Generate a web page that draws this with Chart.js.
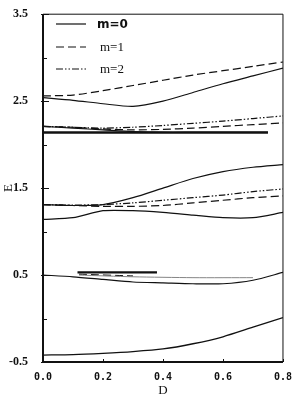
<!DOCTYPE html>
<html><head><meta charset="utf-8">
<script src="https://cdn.jsdelivr.net/npm/chart.js@4"></script>
<style>html,body{margin:0;padding:0;background:#fff}#wrap{width:293px;height:395px;position:relative}</style>
</head><body><div id="wrap"><canvas id="c"></canvas></div>
<script>
// ---- data ----
const D = [0, 0.1, 0.2, 0.3, 0.4, 0.5, 0.6, 0.7, 0.8];
const D_short = [0, 0.1, 0.2, 0.3, 0.4, 0.5, 0.6, 0.7, 0.75];
const yTickLabels = ['-0.5', '0.5', '1.5', '2.5', '3.5'];
const xTickLabels = ['0.0', '0.2', '0.4', '0.6', '0.8'];
const legendLabels = ['m=0', 'm=1', 'm=2'];

// band near 2.5
const m0_top = [2.54, 2.51, 2.47, 2.44, 2.50, 2.60, 2.70, 2.79, 2.88];
const m1_top = [2.56, 2.57, 2.62, 2.68, 2.74, 2.80, 2.85, 2.90, 2.95];
// band near 2.2
const m0_b2 = [2.21, 2.19, 2.17, 2.15, 2.14, 2.14, 2.14, 2.14, 2.14];
const m1_b2 = [2.21, 2.20, 2.18, 2.17, 2.175, 2.19, 2.21, 2.23, 2.25];
const m2_b2 = [2.21, 2.20, 2.19, 2.20, 2.22, 2.245, 2.27, 2.30, 2.33];
const ref_b2_x = [0, 0.75];
const ref_b2_y = [2.14, 2.14];
// band near 1.3
const m0_up = [1.31, 1.30, 1.31, 1.39, 1.50, 1.61, 1.69, 1.74, 1.77];
const m0_lo = [1.14, 1.16, 1.24, 1.24, 1.22, 1.19, 1.16, 1.16, 1.22];
const m1_b1 = [1.31, 1.30, 1.29, 1.29, 1.30, 1.33, 1.36, 1.39, 1.41];
const m2_b1 = [1.31, 1.305, 1.31, 1.33, 1.36, 1.39, 1.42, 1.46, 1.49];
// band near 0.5
const m0_b0 = [0.50, 0.48, 0.45, 0.42, 0.41, 0.40, 0.40, 0.44, 0.53];
const thin_b0_x = [0.12, 0.3, 0.5, 0.7];
const thin_b0_y = [0.50, 0.48, 0.47, 0.47];
const thick_b0_x = [0.115, 0.38];
const thick_b0_y = [0.53, 0.53];
const dash_b0_x = [0.12, 0.3];
const dash_b0_y = [0.51, 0.49];
// bottom curve
const m0_bot = [-0.42, -0.415, -0.40, -0.38, -0.35, -0.29, -0.21, -0.10, 0.01];

// ---- styles ----
const DASH = [8, 4];
const DASHDOT = [7, 2, 1.5, 2, 1.5, 2];
function pts(xs, ys) { return xs.map((x, i) => ({ x: x, y: ys[i] })); }
function ds(xs, ys, dash, w, color) {
  return { data: pts(xs, ys), borderColor: color || '#111', borderWidth: w || 1.2,
    borderDash: dash || [], pointRadius: 0, tension: 0.25, fill: false };
}

const datasets = [
  ds(D, m0_top, [], 1.2), ds(D, m1_top, DASH, 1.2),
  ds(D_short, m0_b2, [], 1.2), ds(D, m1_b2, DASH, 1.2), ds(D, m2_b2, DASHDOT, 1.2),
  ds(ref_b2_x, ref_b2_y, [], 2.6),
  ds(D, m0_up, [], 1.2), ds(D, m0_lo, [], 1.2), ds(D, m1_b1, DASH, 1.2), ds(D, m2_b1, DASHDOT, 1.2),
  ds(D, m0_b0, [], 1.2), ds(thin_b0_x, thin_b0_y, [], 0.9, '#777'),
  ds(thick_b0_x, thick_b0_y, [], 2.2), ds(dash_b0_x, dash_b0_y, DASH, 1),
  ds(D, m0_bot, [], 1.3)
];

const legendStyles = [[], DASH, DASHDOT];
const legendFonts = ['bold 12px "DejaVu Sans"', '13px "Liberation Serif"', '13px "Liberation Serif"'];

const framePlugin = {
  id: 'frame',
  afterDatasetsDraw(chart) {
    const { ctx, chartArea: a, scales } = chart;
    ctx.save();
    ctx.strokeStyle = '#111';
    ctx.setLineDash([]);
    // box
    ctx.lineWidth = 1;
    ctx.beginPath();
    ctx.moveTo(a.left, a.top); ctx.lineTo(a.right, a.top); ctx.lineTo(a.right, a.bottom);
    ctx.stroke();
    ctx.lineWidth = 2;
    ctx.beginPath();
    ctx.moveTo(a.left, a.top); ctx.lineTo(a.left, a.bottom); ctx.lineTo(a.right, a.bottom);
    ctx.stroke();
    // inside ticks
    ctx.lineWidth = 1;
    scales.y.ticks.forEach(t => {
      const py = Math.round(scales.y.getPixelForValue(t.value)) + 0.5;
      const major = t.label !== '';
      ctx.beginPath(); ctx.moveTo(a.left - (major ? 2 : 0), py); ctx.lineTo(a.left + (major ? 6 : 4), py); ctx.stroke();
    });
    scales.x.ticks.forEach(t => {
      const px = Math.round(scales.x.getPixelForValue(t.value)) + 0.5;
      ctx.beginPath(); ctx.moveTo(px, a.bottom); ctx.lineTo(px, a.bottom - 3); ctx.stroke();
    });
    // legend
    const rows = [24, 47, 69];
    rows.forEach((ry, i) => {
      ctx.lineWidth = 1.2;
      ctx.setLineDash(legendStyles[i]);
      ctx.beginPath(); ctx.moveTo(56, ry); ctx.lineTo(86, ry); ctx.stroke();
      ctx.setLineDash([]);
      ctx.fillStyle = '#111';
      ctx.font = legendFonts[i];
      ctx.textBaseline = 'middle';
      ctx.fillText(legendLabels[i], i === 0 ? 97 : 100, ry + 1);
    });
    ctx.restore();
  }
};

new Chart(document.getElementById('c'), {
  type: 'line',
  data: { datasets: datasets },
  options: {
    responsive: true, maintainAspectRatio: false, animation: false,
    layout: { padding: { left: 0, right: 7, top: 11, bottom: 0 }, autoPadding: false },
    plugins: { legend: { display: false }, tooltip: { enabled: false } },
    scales: {
      x: {
        type: 'linear', min: 0, max: 0.8,
        grid: { display: false }, border: { display: false },
        ticks: { stepSize: 0.2, padding: 1, color: '#111', maxRotation: 0,
          font: { family: 'DejaVu Sans Mono', size: 10, weight: 'bold' },
          callback: (v) => { const s = v.toFixed(1); return xTickLabels.includes(s) ? s : ''; } },
        title: { display: true, text: 'D', color: '#111', padding: { top: 0, bottom: -3 },
          font: { family: 'Liberation Serif', size: 13 } },
        afterFit(s) { s.height = 33; }
      },
      y: {
        type: 'linear', min: -0.5, max: 3.5,
        grid: { display: false }, border: { display: false },
        ticks: { stepSize: 0.5, padding: 7, color: '#111',
          font: { family: 'Liberation Serif', size: 12, weight: 'bold' },
          callback: (v) => { const s = v.toFixed(1); return yTickLabels.includes(s) ? s : ''; } },
        title: { display: true, text: 'E', color: '#111', padding: { top: 1, bottom: 0 },
          font: { family: 'Liberation Serif', size: 13 } },
        afterFit(s) { s.width = 43; }
      }
    }
  },
  plugins: [framePlugin]
});
</script></body></html>
